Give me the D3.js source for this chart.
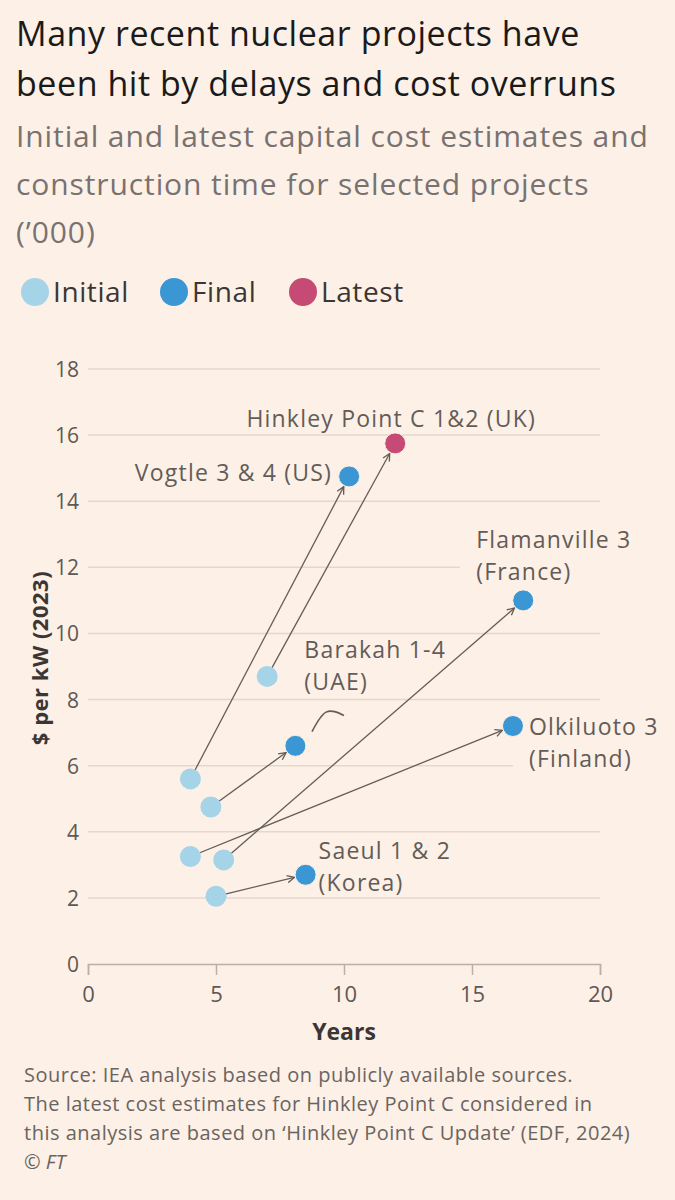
<!DOCTYPE html>
<meta charset="utf-8">
<style>
  body { margin: 0; background: #fdf0e6; }
  svg { display: block; }
  .grid line { stroke: #e3d8cf; stroke-width: 1.5; }
  .lbl { font-family: "Open Sans", sans-serif; font-size: 23px; letter-spacing: 1.2px; fill: #625c58; }
</style>
<body>
<div id="plotHere"></div>
<script src="https://cdn.jsdelivr.net/npm/d3@7"></script>
<script>
//------------------------ DATA ------------------------//
const projects  = ["Vogtle 3 & 4 (US)", "Hinkley Point C 1&2 (UK)", "Flamanville 3", "Barakah 1-4", "Olkiluoto 3", "Saeul 1 & 2"];
const initYears = [4.0, 7.0, 5.3, 4.8, 4.0, 5.0];
const initCost  = [5.6, 8.7, 3.15, 4.75, 3.25, 2.05];
const endYears  = [10.2, 12.0, 17.0, 8.1, 16.6, 8.5];
const endCost   = [14.75, 15.75, 11.0, 6.6, 7.2, 2.7];
const endType   = ["Final", "Latest", "Final", "Final", "Final", "Final"];
const subLabel  = ["", "", "(France)", "(UAE)", "(Finland)", "(Korea)"];
const yTicks = [0, 2, 4, 6, 8, 10, 12, 14, 16, 18];
const xTicks = [0, 5, 10, 15, 20];
const legendKeys = ["Initial", "Final", "Latest"];
const strayArc = [[8.75, 7.03], [9.3, 7.62], [10.0, 7.52]];

const colour = { Initial: "#a5d4e8", Final: "#3a97d3", Latest: "#c54a74" };
const bg = "#fdf0e6";

//------------------------ SVG ------------------------//
const W = 675, H = 1200;
const svg = d3.select("#plotHere").append("svg")
    .attr("width", W).attr("height", H);

svg.append("rect").attr("width", W).attr("height", H).attr("fill", bg);

// title + subtitle
const title = ["Many recent nuclear projects have", "been hit by delays and cost overruns"];
const subtitle = ["Initial and latest capital cost estimates and", "construction time for selected projects", "(’000)"];

svg.selectAll(".title").data(title).join("text")
    .attr("x", 16).attr("y", (d, i) => 46 + i * 50)
    .style("font", "34px 'Open Sans', sans-serif").style("letter-spacing", "0.55px")
    .attr("fill", "#1a1a1a")
    .text(d => d);

svg.selectAll(".sub").data(subtitle).join("text")
    .attr("x", 16).attr("y", (d, i) => 147 + i * 48)
    .style("font", "30px 'Open Sans', sans-serif").style("letter-spacing", "0.9px")
    .attr("fill", "#787271")
    .text(d => d);

// legend
const legX = [35, 174, 303];
const leg = svg.selectAll(".leg").data(legendKeys).join("g")
    .attr("transform", (d, i) => `translate(${legX[i]},292)`);
leg.append("circle").attr("r", 14).attr("fill", d => colour[d]);
leg.append("text").attr("x", 18).attr("y", 10)
    .style("font", "500 28px 'Open Sans', sans-serif").style("letter-spacing", "0.6px")
    .attr("fill", "#3b3633")
    .text(d => d);

//------------------------ SCALES ------------------------//
const x = d3.scaleLinear().domain([0, 20]).range([88, 600]);
const y = d3.scaleLinear().domain([0, 18]).range([964, 369]);

// gridlines
svg.append("g").attr("class", "grid")
  .selectAll("line").data(yTicks.filter(d => d > 0)).join("line")
    .attr("x1", x(0)).attr("x2", x(20))
    .attr("y1", d => y(d)).attr("y2", d => y(d));

// y tick labels
svg.append("g").selectAll("text").data(yTicks).join("text")
    .attr("x", 79).attr("y", d => y(d) + 8)
    .attr("text-anchor", "end")
    .style("font", "21px 'Open Sans', sans-serif").attr("fill", "#5e5855")
    .text(d => d);

// x axis
const xAxis = svg.append("g")
    .attr("transform", `translate(0,${y(0)})`)
    .call(d3.axisBottom(x).tickValues(xTicks).tickSize(11).tickPadding(11));
xAxis.select(".domain").attr("stroke", "#b9b0a9").attr("stroke-width", 1.5);
xAxis.selectAll(".tick line").attr("stroke", "#b9b0a9").attr("stroke-width", 1.5);
xAxis.selectAll(".tick text")
    .style("font", "22px 'Open Sans', sans-serif").attr("fill", "#5e5855");

svg.append("text")
    .attr("x", x(10)).attr("y", 1040).attr("text-anchor", "middle")
    .style("font", "bold 23px 'Open Sans', sans-serif").attr("fill", "#3b3633")
    .text("Years");

svg.append("text")
    .attr("transform", "translate(48,658) rotate(-90)")
    .attr("text-anchor", "middle")
    .style("font", "bold 22px 'Open Sans', sans-serif").style("letter-spacing", "0.5px")
    .attr("fill", "#3b3633")
    .text("$ per kW (2023)");

//------------------------ ARROWS ------------------------//
svg.append("defs").append("marker")
    .attr("id", "head").attr("viewBox", "0 0 10 10")
    .attr("refX", 9).attr("refY", 5)
    .attr("markerWidth", 9).attr("markerHeight", 9)
    .attr("markerUnits", "userSpaceOnUse")
    .attr("orient", "auto")
  .append("path")
    .attr("d", "M1,1 L9,5 L1,9")
    .attr("fill", "none").attr("stroke", "#645d59").attr("stroke-width", 1.5);

const R = 10.5;
const rows = projects.map((p, i) => ({
  name: p, sub: subLabel[i], type: endType[i],
  x0: x(initYears[i]), y0: y(initCost[i]),
  x1: x(endYears[i]), y1: y(endCost[i])
}));

//------------------------ LABELS ------------------------//
// [dx, dy, anchor] of each label relative to its end point
const labelPos = [[-17, 5, "end"], [-4, -16, "middle"], [-47, -52, "start"],
                  [9, -88, "start"], [16, 9, "start"], [13, -16, "start"]];
const labG = svg.append("g");
const lab = labG.selectAll("text").data(rows).join("text")
    .attr("class", "lbl")
    .attr("x", (d, i) => d.x1 + labelPos[i][0])
    .attr("y", (d, i) => d.y1 + labelPos[i][1])
    .attr("text-anchor", (d, i) => labelPos[i][2]);
lab.append("tspan").text(d => d.name);
lab.append("tspan").attr("dy", 32)
    .attr("x", (d, i) => d.x1 + labelPos[i][0])
    .text(d => d.sub);

// label boxes hide the gridlines underneath
lab.each(function() {
  const b = this.getBBox();
  labG.insert("rect", "text")
      .attr("x", b.x - 16).attr("y", b.y + 4)
      .attr("width", b.width + 32).attr("height", b.height - 8)
      .attr("fill", bg);
});

svg.append("g").selectAll("line").data(rows).join("line")
    .each(function(d) {
      const dx = d.x1 - d.x0, dy = d.y1 - d.y0, L = Math.hypot(dx, dy);
      d3.select(this)
        .attr("x1", d.x0 + dx / L * (R - 1)).attr("y1", d.y0 + dy / L * (R - 1))
        .attr("x2", d.x1 - dx / L * (R + 1)).attr("y2", d.y1 - dy / L * (R + 1));
    })
    .attr("stroke", "#645d59").attr("stroke-width", 1.3)
    .attr("marker-end", "url(#head)");

svg.append("path")
    .attr("d", d3.line().x(d => x(d[0])).y(d => y(d[1])).curve(d3.curveNatural)(strayArc))
    .attr("fill", "none").attr("stroke", "#645d59").attr("stroke-width", 1.6);

//------------------------ POINTS ------------------------//
svg.append("g").selectAll("circle").data(rows).join("circle")
    .attr("cx", d => d.x0).attr("cy", d => d.y0).attr("r", R)
    .attr("fill", colour.Initial);
svg.append("g").selectAll("circle").data(rows).join("circle")
    .attr("cx", d => d.x1).attr("cy", d => d.y1).attr("r", R)
    .attr("fill", d => colour[d.type])
    .attr("stroke", bg).attr("stroke-width", 1);

//------------------------ SOURCE ------------------------//
const source = ["Source: IEA analysis based on publicly available sources.",
  "The latest cost estimates for Hinkley Point C considered in",
  "this analysis are based on ‘Hinkley Point C Update’ (EDF, 2024)"];
svg.selectAll(".src").data(source).join("text")
    .attr("x", 24).attr("y", (d, i) => 1082 + i * 29)
    .style("font", "20px 'Open Sans', sans-serif").style("letter-spacing", "0.5px")
    .attr("fill", "#6a6461")
    .text(d => d);
svg.append("text").attr("x", 24).attr("y", 1169)
    .style("font", "italic 20px 'Open Sans', sans-serif").attr("fill", "#6a6461")
    .text("© FT");
</script>
</body>
